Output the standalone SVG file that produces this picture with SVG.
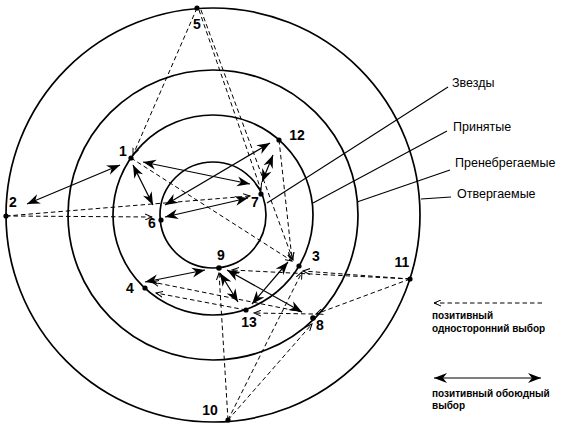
<svg xmlns="http://www.w3.org/2000/svg" width="563" height="425" viewBox="0 0 563 425">
<style>
.ring{fill:none;stroke:#000;stroke-width:1.7}
.lead{stroke:#000;stroke-width:1.1;fill:none}
.mut{stroke:#000;stroke-width:1.2;fill:none;marker-start:url(#big);marker-end:url(#big)}
.one{stroke:#000;stroke-width:1;fill:none;stroke-dasharray:4.5,3;marker-end:url(#small)}
.dot{fill:#000}
.nl{font-family:"Liberation Sans",Arial,sans-serif;font-size:14px;font-weight:bold;fill:#000;text-anchor:middle}
.cl{font-family:"Liberation Sans",Arial,sans-serif;font-size:12.5px;fill:#000}
.lg{font-family:"Liberation Sans",Arial,sans-serif;font-size:10px;font-weight:bold;fill:#000}
</style>
<defs>
<marker id="big" markerUnits="userSpaceOnUse" markerWidth="14" markerHeight="11" refX="13" refY="5" orient="auto-start-reverse" viewBox="0 0 14 10">
<path d="M0,0 L13,5 L0,10 L4,5 z" fill="#000"/>
</marker>
<marker id="small" markerUnits="userSpaceOnUse" markerWidth="8" markerHeight="7" refX="7" refY="3" orient="auto" viewBox="0 0 8 6">
<path d="M0,0 L7,3 L0,6" fill="none" stroke="#000" stroke-width="1"/>
</marker>
</defs>
<g id="rings">
<circle class="ring" cx="213" cy="215" r="207"/>
<circle class="ring" cx="213" cy="215" r="145"/>
<circle class="ring" cx="213" cy="215" r="100"/>
<circle class="ring" cx="213" cy="215" r="53"/>
</g>
<g id="connectors">
<line class="one" x1="197" y1="8" x2="133" y2="155"/>
<line class="one" x1="199" y1="10" x2="261" y2="190"/>
<line class="one" x1="201" y1="10" x2="293" y2="260"/>
<line class="one" x1="6" y1="216" x2="250" y2="196"/>
<line class="one" x1="6" y1="216" x2="152" y2="217"/>
<line class="one" x1="131" y1="158" x2="292" y2="261"/>
<line class="one" x1="279" y1="140" x2="292" y2="259"/>
<line class="one" x1="410" y1="279" x2="303" y2="271"/>
<line class="one" x1="410" y1="279" x2="232" y2="270"/>
<line class="one" x1="410" y1="279" x2="316" y2="314"/>
<line class="one" x1="313" y1="314" x2="254" y2="313"/>
<line class="one" x1="302" y1="312" x2="152" y2="282"/>
<line class="one" x1="246" y1="310" x2="156" y2="293"/>
<line class="one" x1="228" y1="420" x2="219" y2="273"/>
<line class="one" x1="228" y1="420" x2="302" y2="272"/>
<line class="one" x1="228" y1="420" x2="312" y2="324"/>
<line class="mut" x1="120" y1="165" x2="27" y2="204"/>
<line class="mut" x1="143" y1="162" x2="250" y2="184"/>
<line class="mut" x1="133" y1="165" x2="153" y2="205"/>
<line class="mut" x1="165" y1="217" x2="248" y2="198"/>
<line class="mut" x1="165" y1="205" x2="270" y2="143"/>
<line class="mut" x1="262" y1="182" x2="273" y2="155"/>
<line class="mut" x1="145" y1="282" x2="205" y2="270"/>
<line class="mut" x1="220" y1="273" x2="238" y2="302"/>
<line class="mut" x1="227" y1="270" x2="302" y2="312"/>
<line class="mut" x1="288" y1="262" x2="252" y2="304"/>
</g>
<g id="n1"><circle class="dot" cx="131" cy="158" r="2.6"/><text class="nl" x="123" y="156">1</text></g>
<g id="n2"><circle class="dot" cx="6" cy="216" r="2.6"/><text class="nl" x="13" y="207">2</text></g>
<g id="n3"><circle class="dot" cx="299" cy="266" r="2.6"/><text class="nl" x="316" y="261">3</text></g>
<g id="n4"><circle class="dot" cx="145" cy="288" r="2.6"/><text class="nl" x="130" y="293">4</text></g>
<g id="n5"><circle class="dot" cx="197" cy="8" r="2.6"/><text class="nl" x="197" y="29">5</text></g>
<g id="n6"><circle class="dot" cx="161" cy="220" r="2.6"/><text class="nl" x="152" y="228">6</text></g>
<g id="n7"><circle class="dot" cx="261" cy="194" r="2.6"/><text class="nl" x="255" y="207">7</text></g>
<g id="n8"><circle class="dot" cx="313" cy="318" r="2.8"/><text class="nl" x="320" y="330">8</text></g>
<g id="n9"><circle class="dot" cx="219" cy="268" r="2.8"/><text class="nl" x="221" y="260">9</text></g>
<g id="n10"><circle class="dot" cx="228" cy="420" r="2.6"/><text class="nl" x="210" y="415">10</text></g>
<g id="n11"><circle class="dot" cx="410" cy="279" r="2.6"/><text class="nl" x="402" y="267">11</text></g>
<g id="n12"><circle class="dot" cx="279" cy="140" r="2.6"/><text class="nl" x="297" y="140">12</text></g>
<g id="n13"><circle class="dot" cx="246" cy="310" r="2.6"/><text class="nl" x="249" y="327">13</text></g>
<g id="ring-labels">
<line class="lead" x1="267" y1="203" x2="448" y2="87"/>
<text class="cl" x="452" y="87">Звезды</text>
<line class="lead" x1="313" y1="203" x2="447" y2="131"/>
<text class="cl" x="453" y="131">Принятые</text>
<line class="lead" x1="357" y1="202" x2="450" y2="170"/>
<text class="cl" x="455" y="167">Пренебрегаемые</text>
<line class="lead" x1="421" y1="199" x2="451" y2="197"/>
<text class="cl" x="457" y="198">Отвергаемые</text>
</g>
<g id="legend">
<line class="one" x1="542" y1="303" x2="434" y2="303"/>
<text class="lg" x="432" y="319">позитивный</text>
<text class="lg" x="432" y="332">односторонний выбор</text>
<line class="mut" x1="434" y1="378" x2="541" y2="378"/>
<text class="lg" x="432" y="397">позитивный обоюдный</text>
<text class="lg" x="432" y="409">выбор</text>
</g>
</svg>
